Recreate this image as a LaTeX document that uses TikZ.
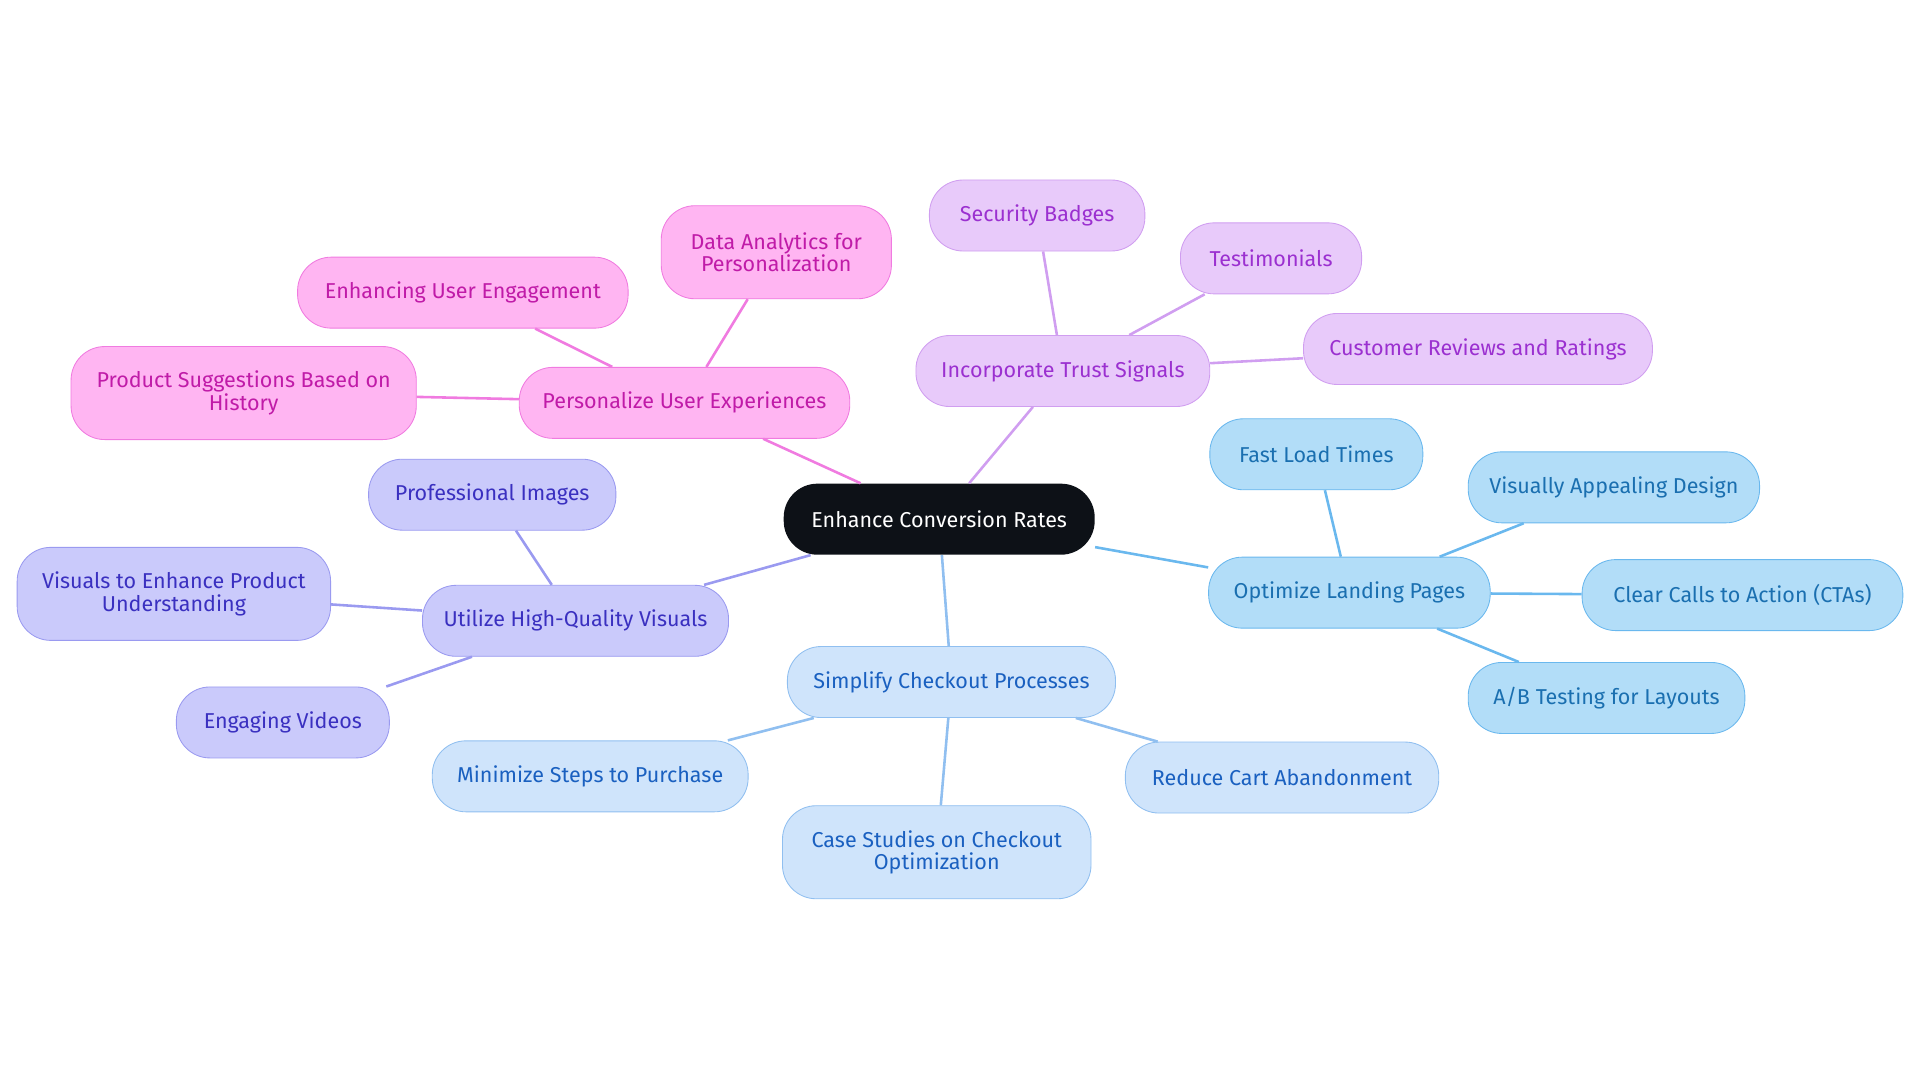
\documentclass[tikz,border=0pt]{standalone}
\usepackage{fontspec}
\setmainfont{Fira Sans}
\definecolor{rootfill}{HTML}{0D1117}
\definecolor{pinkfill}{HTML}{FFB5F2}\definecolor{pinkline}{HTML}{F07BE0}\definecolor{pinktext}{HTML}{C01BA8}
\definecolor{lilafill}{HTML}{E8CAFA}\definecolor{lilaline}{HTML}{D09EF0}\definecolor{lilatext}{HTML}{9B30D0}
\definecolor{bluefill}{HTML}{B2DDF8}\definecolor{blueline}{HTML}{6AB8EE}\definecolor{bluetext}{HTML}{1A6FB0}
\definecolor{skyfill}{HTML}{CFE4FB}\definecolor{skyline}{HTML}{90BFF0}\definecolor{skytext}{HTML}{1A60C0}
\definecolor{lavfill}{HTML}{CACAFB}\definecolor{lavline}{HTML}{9A9AF0}\definecolor{lavtext}{HTML}{3A30C0}
\begin{document}
\begin{tikzpicture}[x=0.02cm,y=-0.02cm,
	box/.style={rounded corners=0.55cm,minimum height=1.16cm,align=center,inner sep=1mm,font=\fontsize{10}{10.5}\selectfont},
	rootbox/.style={box,fill=rootfill,text=white,minimum width=5.08cm},
	pinkbox/.style={box,fill=pinkfill,draw=pinkline,text=pinktext},
	lilabox/.style={box,fill=lilafill,draw=lilaline,text=lilatext},
	bluebox/.style={box,fill=bluefill,draw=blueline,text=bluetext},
	skybox/.style={box,fill=skyfill,draw=skyline,text=skytext},
	lavbox/.style={box,fill=lavfill,draw=lavline,text=lavtext},
	tall/.style={minimum height=1.52cm},
	link/.style={line width=1.2pt}]

	\useasboundingbox (0,0) rectangle (1568,884);

	\node[rootbox] (root) at (767,424) {Enhance Conversion Rates};

	\node[pinkbox, minimum width=5.4cm] (pers) at (559,329) {Personalize User Experiences};
	\node[pinkbox, tall, minimum width=3.76cm] (data) at (634,206) {Data Analytics for\\Personalization};
	\node[pinkbox, minimum width=5.4cm] (engage) at (378,239) {Enhancing User Engagement};
	\node[pinkbox, tall, minimum width=5.64cm] (sugg) at (199,321) {Product Suggestions Based on\\History};

	\node[lilabox, minimum width=4.8cm] (trust) at (868,303) {Incorporate Trust Signals};
	\node[lilabox, minimum width=3.52cm] (badge) at (847,176) {Security Badges};
	\node[lilabox, minimum width=2.96cm] (testi) at (1038,211) {Testimonials};
	\node[lilabox, minimum width=5.7cm] (review) at (1207,285) {Customer Reviews and Ratings};

	\node[bluebox, minimum width=4.6cm] (land) at (1102,484) {Optimize Landing Pages};
	\node[bluebox, minimum width=3.48cm] (fast) at (1075,371) {Fast Load Times};
	\node[bluebox, minimum width=4.76cm] (design) at (1318,398) {Visually Appealing Design};
	\node[bluebox, minimum width=5.24cm] (cta) at (1423,486) {Clear Calls to Action (CTAs)};
	\node[bluebox, minimum width=4.52cm] (abtest) at (1312,570) {A/B Testing for Layouts};

	\node[skybox, minimum width=5.36cm] (check) at (777,557) {Simplify Checkout Processes};
	\node[skybox, minimum width=5.16cm] (steps) at (482,634) {Minimize Steps to Purchase};
	\node[skybox, tall, minimum width=5.04cm] (cases) at (765,696) {Case Studies on Checkout\\Optimization};
	\node[skybox, minimum width=5.12cm] (cart) at (1047,635) {Reduce Cart Abandonment};

	\node[lavbox, minimum width=5cm] (visual) at (470,507) {Utilize High-Quality Visuals};
	\node[lavbox, minimum width=4.04cm] (images) at (402,404) {Professional Images};
	\node[lavbox, tall, minimum width=5.12cm] (underst) at (142,485) {Visuals to Enhance Product\\Understanding};
	\node[lavbox, minimum width=3.48cm] (videos) at (231,590) {Engaging Videos};

	\draw[link, pinkline] (root) -- (pers);
	\draw[link, pinkline] (pers) -- (data);
	\draw[link, pinkline] (pers) -- (engage);
	\draw[link, pinkline] (pers) -- (sugg);
	\draw[link, lilaline] (root) -- (trust);
	\draw[link, lilaline] (trust) -- (badge);
	\draw[link, lilaline] (trust) -- (testi);
	\draw[link, lilaline] (trust) -- (review);
	\draw[link, blueline] (root) -- (land);
	\draw[link, blueline] (land) -- (fast);
	\draw[link, blueline] (land) -- (design);
	\draw[link, blueline] (land) -- (cta);
	\draw[link, blueline] (land) -- (abtest);
	\draw[link, skyline] (root) -- (check);
	\draw[link, skyline] (check) -- (steps);
	\draw[link, skyline] (check) -- (cases);
	\draw[link, skyline] (check) -- (cart);
	\draw[link, lavline] (root) -- (visual);
	\draw[link, lavline] (visual) -- (images);
	\draw[link, lavline] (visual) -- (underst);
	\draw[link, lavline] (visual) -- (videos);

\end{tikzpicture}
\end{document}
